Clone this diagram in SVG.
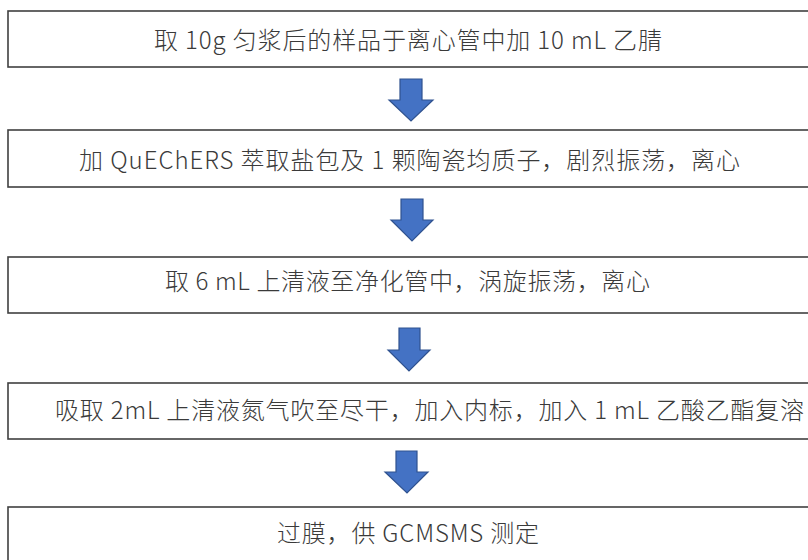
<svg xmlns="http://www.w3.org/2000/svg" width="808" height="560" viewBox="0 0 808 560">
<style>
.box{fill:#ffffff;stroke:#404040;stroke-width:1.6}
.t{font-family:"Noto Sans CJK SC","Noto Sans",sans-serif;font-size:24px;font-weight:300;fill:#3a3a3a}
.arr{fill:#4472C4;stroke:#2F528F;stroke-width:1.2;stroke-linejoin:miter}
</style>
<rect width="808" height="560" fill="#ffffff"/>
<g id="connectors">
<polygon class="arr" points="400,79 422,79 422,100 433,100 411,121 389,100 400,100"/>
<polygon class="arr" points="401,199 423,199 423,220 433,220 412,241 391,220 401,220"/>
<polygon class="arr" points="399,328 420,328 420,350 430,350 409,371 388,350 399,350"/>
<polygon class="arr" points="396,451 417,451 417,472 428,472 407,493 385,472 396,472"/>
</g>
<g id="step1">
<rect class="box" x="8" y="11" width="830" height="56"/>
<text class="t" x="154" y="49" textLength="508">取 10g 匀浆后的样品于离心管中加 10 mL 乙腈</text>
</g>
<g id="step2">
<rect class="box" x="8" y="130" width="830" height="57"/>
<text class="t" x="79" y="169" textLength="661">加 QuEChERS 萃取盐包及 1 颗陶瓷均质子，剧烈振荡，离心</text>
</g>
<g id="step3">
<rect class="box" x="8" y="257" width="830" height="56"/>
<text class="t" x="165" y="290" textLength="485">取 6 mL 上清液至净化管中，涡旋振荡，离心</text>
</g>
<g id="step4">
<rect class="box" x="8" y="383" width="830" height="56"/>
<text class="t" x="55" y="419" textLength="749">吸取 2mL 上清液氮气吹至尽干，加入内标，加入 1 mL 乙酸乙酯复溶</text>
</g>
<g id="step5">
<rect class="box" x="8" y="507" width="830" height="80"/>
<text class="t" x="277" y="542" textLength="262">过膜，供 GCMSMS 测定</text>
</g>
</svg>
